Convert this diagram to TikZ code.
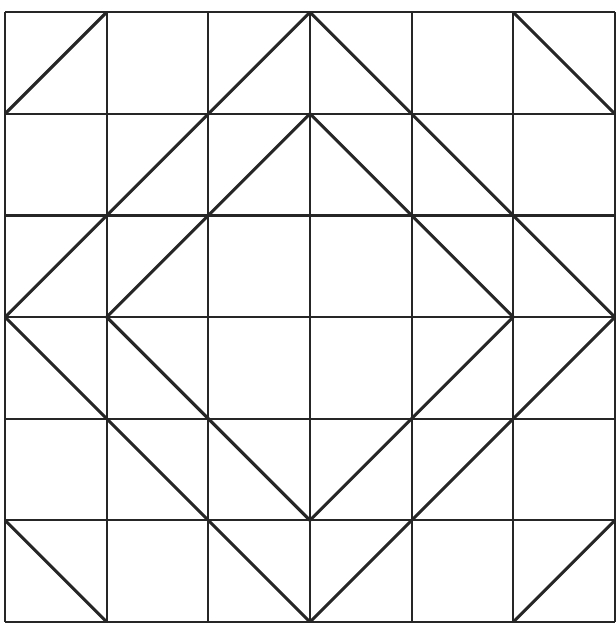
\documentclass[tikz,border=0pt]{standalone}
\begin{document}
\begin{tikzpicture}[scale=1]
			\useasboundingbox (-0.05,-0.01) rectangle (6.01,6.12);
			\draw[line width=0.6pt,black!85] (0,0) grid (6,6);
			\draw[line width=0.85pt,black!85] (0,5) -- (1,6);
			\draw[line width=0.85pt,black!85] (5,6) -- (6,5);
			\draw[line width=0.85pt,black!85] (0,1) -- (1,0);
			\draw[line width=0.85pt,black!85] (5,0) -- (6,1);
			\draw[line width=0.85pt,black!85,line join=round] (3,6) -- (0,3) -- (3,0) -- (6,3) -- cycle;
			\draw[line width=0.85pt,black!85,line join=round] (3,5) -- (1,3) -- (3,1) -- (5,3) -- cycle;
		\end{tikzpicture}
\end{document}
